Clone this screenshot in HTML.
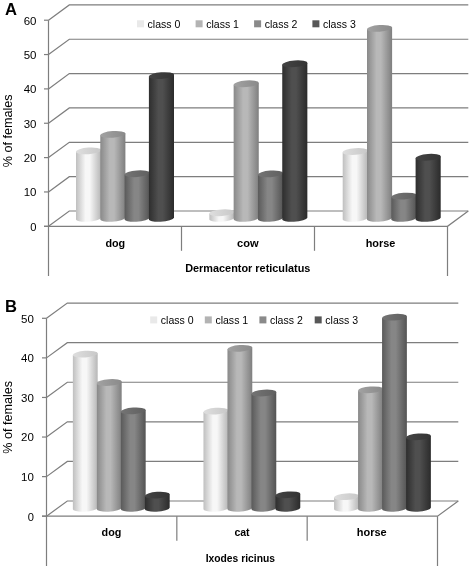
<!DOCTYPE html>
<html><head><meta charset="utf-8"><title>chart</title>
<style>
html,body{margin:0;padding:0;background:#fff;}
body{width:473px;height:566px;overflow:hidden;}
svg{display:block;filter:grayscale(1);font-family:"Liberation Sans",sans-serif;fill:#000;}
</style></head><body>
<svg width="473" height="566" viewBox="0 0 473 566">
<defs>
<linearGradient id="g0" x1="0" x2="1" y1="0" y2="0"><stop offset="0" stop-color="#bfbfbf"/><stop offset="0.38" stop-color="#f7f7f7"/><stop offset="0.55" stop-color="#f7f7f7"/><stop offset="1" stop-color="#b6b6b6"/></linearGradient>
<linearGradient id="t0" x1="0" x2="1" y1="0" y2="0"><stop offset="0" stop-color="#dedede"/><stop offset="1" stop-color="#c8c8c8"/></linearGradient>
<linearGradient id="g1" x1="0" x2="1" y1="0" y2="0"><stop offset="0" stop-color="#898989"/><stop offset="0.38" stop-color="#b8b8b8"/><stop offset="0.55" stop-color="#b8b8b8"/><stop offset="1" stop-color="#7f7f7f"/></linearGradient>
<linearGradient id="t1" x1="0" x2="1" y1="0" y2="0"><stop offset="0" stop-color="#a2a2a2"/><stop offset="1" stop-color="#8a8a8a"/></linearGradient>
<linearGradient id="g2" x1="0" x2="1" y1="0" y2="0"><stop offset="0" stop-color="#5a5a5a"/><stop offset="0.38" stop-color="#868686"/><stop offset="0.55" stop-color="#868686"/><stop offset="1" stop-color="#545454"/></linearGradient>
<linearGradient id="t2" x1="0" x2="1" y1="0" y2="0"><stop offset="0" stop-color="#747474"/><stop offset="1" stop-color="#606060"/></linearGradient>
<linearGradient id="g3" x1="0" x2="1" y1="0" y2="0"><stop offset="0" stop-color="#2e2e2e"/><stop offset="0.38" stop-color="#4f4f4f"/><stop offset="0.55" stop-color="#4f4f4f"/><stop offset="1" stop-color="#2b2b2b"/></linearGradient>
<linearGradient id="t3" x1="0" x2="1" y1="0" y2="0"><stop offset="0" stop-color="#444444"/><stop offset="1" stop-color="#343434"/></linearGradient>
</defs>
<rect width="473" height="566" fill="#fff"/>
<path d="M48.5 226.30 L69.30 211.00 L468.30 211.00" fill="none" stroke="#7e7e7e" stroke-width="1.2"/>
<path d="M44.0 226.30 H48.5" stroke="#7e7e7e" stroke-width="1.2"/>
<path d="M48.5 191.95 L69.30 176.65 L468.30 176.65" fill="none" stroke="#7e7e7e" stroke-width="1.2"/>
<path d="M44.0 191.95 H48.5" stroke="#7e7e7e" stroke-width="1.2"/>
<path d="M48.5 157.60 L69.30 142.30 L468.30 142.30" fill="none" stroke="#7e7e7e" stroke-width="1.2"/>
<path d="M44.0 157.60 H48.5" stroke="#7e7e7e" stroke-width="1.2"/>
<path d="M48.5 123.25 L69.30 107.95 L468.30 107.95" fill="none" stroke="#7e7e7e" stroke-width="1.2"/>
<path d="M44.0 123.25 H48.5" stroke="#7e7e7e" stroke-width="1.2"/>
<path d="M48.5 88.90 L69.30 73.60 L468.30 73.60" fill="none" stroke="#7e7e7e" stroke-width="1.2"/>
<path d="M44.0 88.90 H48.5" stroke="#7e7e7e" stroke-width="1.2"/>
<path d="M48.5 54.55 L69.30 39.25 L468.30 39.25" fill="none" stroke="#7e7e7e" stroke-width="1.2"/>
<path d="M44.0 54.55 H48.5" stroke="#7e7e7e" stroke-width="1.2"/>
<path d="M48.5 20.20 L69.30 4.90 L468.30 4.90" fill="none" stroke="#7e7e7e" stroke-width="1.2"/>
<path d="M44.0 20.20 H48.5" stroke="#7e7e7e" stroke-width="1.2"/>
<path d="M44.0 226.30 H447.5 L468.30 211.00" fill="none" stroke="#7e7e7e" stroke-width="1.2"/>
<path d="M48.5 20.20 V276" stroke="#7e7e7e" stroke-width="1.2"/>
<path d="M447.5 226.30 V276" stroke="#7e7e7e" stroke-width="1.2"/>
<path d="M181.50 226.30 V250.8" stroke="#7e7e7e" stroke-width="1.2"/>
<path d="M314.50 226.30 V250.8" stroke="#7e7e7e" stroke-width="1.2"/>
<path d="M76.00 151.80 L76.00 219.00 A12.55 3.30 -4 0 0 101.10 217.80 L101.10 150.00 Z" fill="url(#g0)"/>
<ellipse cx="88.55" cy="150.90" rx="12.60" ry="3.30" transform="rotate(-4.2 88.55 150.90)" fill="url(#t0)"/>
<path d="M100.30 135.30 L100.30 219.00 A12.55 3.30 -4 0 0 125.40 217.80 L125.40 133.50 Z" fill="url(#g1)"/>
<ellipse cx="112.85" cy="134.40" rx="12.60" ry="3.30" transform="rotate(-4.2 112.85 134.40)" fill="url(#t1)"/>
<path d="M124.60 174.60 L124.60 219.00 A12.55 3.30 -4 0 0 149.70 217.80 L149.70 172.80 Z" fill="url(#g2)"/>
<ellipse cx="137.15" cy="173.70" rx="12.60" ry="3.30" transform="rotate(-4.2 137.15 173.70)" fill="url(#t2)"/>
<path d="M148.90 76.50 L148.90 219.00 A12.55 3.30 -4 0 0 174.00 217.80 L174.00 74.70 Z" fill="url(#g3)"/>
<ellipse cx="161.45" cy="75.60" rx="12.60" ry="3.30" transform="rotate(-4.2 161.45 75.60)" fill="url(#t3)"/>
<path d="M209.35 213.60 L209.35 219.00 A12.55 3.30 -4 0 0 234.45 217.80 L234.45 211.80 Z" fill="url(#g0)"/>
<ellipse cx="221.90" cy="212.70" rx="12.60" ry="3.30" transform="rotate(-4.2 221.90 212.70)" fill="url(#t0)"/>
<path d="M233.65 84.70 L233.65 219.00 A12.55 3.30 -4 0 0 258.75 217.80 L258.75 82.90 Z" fill="url(#g1)"/>
<ellipse cx="246.20" cy="83.80" rx="12.60" ry="3.30" transform="rotate(-4.2 246.20 83.80)" fill="url(#t1)"/>
<path d="M257.95 174.80 L257.95 219.00 A12.55 3.30 -4 0 0 283.05 217.80 L283.05 173.00 Z" fill="url(#g2)"/>
<ellipse cx="270.50" cy="173.90" rx="12.60" ry="3.30" transform="rotate(-4.2 270.50 173.90)" fill="url(#t2)"/>
<path d="M282.25 64.70 L282.25 219.00 A12.55 3.30 -4 0 0 307.35 217.80 L307.35 62.90 Z" fill="url(#g3)"/>
<ellipse cx="294.80" cy="63.80" rx="12.60" ry="3.30" transform="rotate(-4.2 294.80 63.80)" fill="url(#t3)"/>
<path d="M342.70 152.40 L342.70 219.00 A12.55 3.30 -4 0 0 367.80 217.80 L367.80 150.60 Z" fill="url(#g0)"/>
<ellipse cx="355.25" cy="151.50" rx="12.60" ry="3.30" transform="rotate(-4.2 355.25 151.50)" fill="url(#t0)"/>
<path d="M367.00 29.30 L367.00 219.00 A12.55 3.30 -4 0 0 392.10 217.80 L392.10 27.50 Z" fill="url(#g1)"/>
<ellipse cx="379.55" cy="28.40" rx="12.60" ry="3.30" transform="rotate(-4.2 379.55 28.40)" fill="url(#t1)"/>
<path d="M391.30 197.00 L391.30 219.00 A12.55 3.30 -4 0 0 416.40 217.80 L416.40 195.20 Z" fill="url(#g2)"/>
<ellipse cx="403.85" cy="196.10" rx="12.60" ry="3.30" transform="rotate(-4.2 403.85 196.10)" fill="url(#t2)"/>
<path d="M415.60 158.20 L415.60 219.00 A12.55 3.30 -4 0 0 440.70 217.80 L440.70 156.40 Z" fill="url(#g3)"/>
<ellipse cx="428.15" cy="157.30" rx="12.60" ry="3.30" transform="rotate(-4.2 428.15 157.30)" fill="url(#t3)"/>
<text x="30.30" y="230.70" font-size="11.6" textLength="6.2" lengthAdjust="spacingAndGlyphs">0</text>
<text x="23.70" y="196.35" font-size="11.6" textLength="12.8" lengthAdjust="spacingAndGlyphs">10</text>
<text x="23.70" y="162.00" font-size="11.6" textLength="12.8" lengthAdjust="spacingAndGlyphs">20</text>
<text x="23.70" y="127.65" font-size="11.6" textLength="12.8" lengthAdjust="spacingAndGlyphs">30</text>
<text x="23.70" y="93.30" font-size="11.6" textLength="12.8" lengthAdjust="spacingAndGlyphs">40</text>
<text x="23.70" y="58.95" font-size="11.6" textLength="12.8" lengthAdjust="spacingAndGlyphs">50</text>
<text x="23.70" y="24.60" font-size="11.6" textLength="12.8" lengthAdjust="spacingAndGlyphs">60</text>
<text transform="translate(11.8 167.3) rotate(-90)" font-size="13" textLength="72.8" lengthAdjust="spacingAndGlyphs">% of females</text>
<text x="4.9" y="14.7" font-size="16.6" font-weight="bold">A</text>
<rect x="137.00" y="20.30" width="7" height="7" fill="#e9e9e9"/>
<text x="147.60" y="27.80" font-size="11.5" textLength="32.8" lengthAdjust="spacingAndGlyphs">class 0</text>
<rect x="195.60" y="20.30" width="7" height="7" fill="#b3b3b3"/>
<text x="206.20" y="27.80" font-size="11.5" textLength="32.8" lengthAdjust="spacingAndGlyphs">class 1</text>
<rect x="254.10" y="20.30" width="7" height="7" fill="#8a8a8a"/>
<text x="264.70" y="27.80" font-size="11.5" textLength="32.8" lengthAdjust="spacingAndGlyphs">class 2</text>
<rect x="312.40" y="20.30" width="7" height="7" fill="#575757"/>
<text x="323.00" y="27.80" font-size="11.5" textLength="32.8" lengthAdjust="spacingAndGlyphs">class 3</text>
<text x="105.4" y="246.8" font-size="11" font-weight="bold" textLength="19.8" lengthAdjust="spacingAndGlyphs">dog</text>
<text x="237" y="246.8" font-size="11" font-weight="bold" textLength="21.6" lengthAdjust="spacingAndGlyphs">cow</text>
<text x="365.7" y="246.8" font-size="11" font-weight="bold" textLength="29.7" lengthAdjust="spacingAndGlyphs">horse</text>
<text x="185.2" y="271.9" font-size="11" font-weight="bold" textLength="125.2" lengthAdjust="spacingAndGlyphs">Dermacentor reticulatus</text>
<path d="M46.5 516.20 L67.30 501.00 L458.30 501.00" fill="none" stroke="#7e7e7e" stroke-width="1.2"/>
<path d="M42.0 516.20 H46.5" stroke="#7e7e7e" stroke-width="1.2"/>
<path d="M46.5 476.62 L67.30 461.42 L458.30 461.42" fill="none" stroke="#7e7e7e" stroke-width="1.2"/>
<path d="M42.0 476.62 H46.5" stroke="#7e7e7e" stroke-width="1.2"/>
<path d="M46.5 437.04 L67.30 421.84 L458.30 421.84" fill="none" stroke="#7e7e7e" stroke-width="1.2"/>
<path d="M42.0 437.04 H46.5" stroke="#7e7e7e" stroke-width="1.2"/>
<path d="M46.5 397.46 L67.30 382.26 L458.30 382.26" fill="none" stroke="#7e7e7e" stroke-width="1.2"/>
<path d="M42.0 397.46 H46.5" stroke="#7e7e7e" stroke-width="1.2"/>
<path d="M46.5 357.88 L67.30 342.68 L458.30 342.68" fill="none" stroke="#7e7e7e" stroke-width="1.2"/>
<path d="M42.0 357.88 H46.5" stroke="#7e7e7e" stroke-width="1.2"/>
<path d="M46.5 318.30 L67.30 303.10 L458.30 303.10" fill="none" stroke="#7e7e7e" stroke-width="1.2"/>
<path d="M42.0 318.30 H46.5" stroke="#7e7e7e" stroke-width="1.2"/>
<path d="M42.0 516.20 H437.5 L458.30 501.00" fill="none" stroke="#7e7e7e" stroke-width="1.2"/>
<path d="M46.5 318.30 V566" stroke="#7e7e7e" stroke-width="1.2"/>
<path d="M437.5 516.20 V566" stroke="#7e7e7e" stroke-width="1.2"/>
<path d="M176.83 516.20 V540.7" stroke="#7e7e7e" stroke-width="1.2"/>
<path d="M307.17 516.20 V540.7" stroke="#7e7e7e" stroke-width="1.2"/>
<path d="M72.87 355.00 L72.87 508.90 A12.40 3.30 -4 0 0 97.67 507.70 L97.67 353.20 Z" fill="url(#g0)"/>
<ellipse cx="85.27" cy="354.10" rx="12.45" ry="3.30" transform="rotate(-4.2 85.27 354.10)" fill="url(#t0)"/>
<path d="M96.87 383.40 L96.87 508.90 A12.40 3.30 -4 0 0 121.67 507.70 L121.67 381.60 Z" fill="url(#g1)"/>
<ellipse cx="109.27" cy="382.50" rx="12.45" ry="3.30" transform="rotate(-4.2 109.27 382.50)" fill="url(#t1)"/>
<path d="M120.87 411.80 L120.87 508.90 A12.40 3.30 -4 0 0 145.67 507.70 L145.67 410.00 Z" fill="url(#g2)"/>
<ellipse cx="133.27" cy="410.90" rx="12.45" ry="3.30" transform="rotate(-4.2 133.27 410.90)" fill="url(#t2)"/>
<path d="M144.87 496.00 L144.87 508.90 A12.40 3.30 -4 0 0 169.67 507.70 L169.67 494.20 Z" fill="url(#g3)"/>
<ellipse cx="157.27" cy="495.10" rx="12.45" ry="3.30" transform="rotate(-4.2 157.27 495.10)" fill="url(#t3)"/>
<path d="M203.47 412.00 L203.47 508.90 A12.40 3.30 -4 0 0 228.27 507.70 L228.27 410.20 Z" fill="url(#g0)"/>
<ellipse cx="215.87" cy="411.10" rx="12.45" ry="3.30" transform="rotate(-4.2 215.87 411.10)" fill="url(#t0)"/>
<path d="M227.47 349.30 L227.47 508.90 A12.40 3.30 -4 0 0 252.27 507.70 L252.27 347.50 Z" fill="url(#g1)"/>
<ellipse cx="239.87" cy="348.40" rx="12.45" ry="3.30" transform="rotate(-4.2 239.87 348.40)" fill="url(#t1)"/>
<path d="M251.47 393.90 L251.47 508.90 A12.40 3.30 -4 0 0 276.27 507.70 L276.27 392.10 Z" fill="url(#g2)"/>
<ellipse cx="263.87" cy="393.00" rx="12.45" ry="3.30" transform="rotate(-4.2 263.87 393.00)" fill="url(#t2)"/>
<path d="M275.47 495.70 L275.47 508.90 A12.40 3.30 -4 0 0 300.27 507.70 L300.27 493.90 Z" fill="url(#g3)"/>
<ellipse cx="287.87" cy="494.80" rx="12.45" ry="3.30" transform="rotate(-4.2 287.87 494.80)" fill="url(#t3)"/>
<path d="M334.07 497.60 L334.07 508.90 A12.40 3.30 -4 0 0 358.87 507.70 L358.87 495.80 Z" fill="url(#g0)"/>
<ellipse cx="346.47" cy="496.70" rx="12.45" ry="3.30" transform="rotate(-4.2 346.47 496.70)" fill="url(#t0)"/>
<path d="M358.07 390.70 L358.07 508.90 A12.40 3.30 -4 0 0 382.87 507.70 L382.87 388.90 Z" fill="url(#g1)"/>
<ellipse cx="370.47" cy="389.80" rx="12.45" ry="3.30" transform="rotate(-4.2 370.47 389.80)" fill="url(#t1)"/>
<path d="M382.07 318.10 L382.07 508.90 A12.40 3.30 -4 0 0 406.87 507.70 L406.87 316.30 Z" fill="url(#g2)"/>
<ellipse cx="394.47" cy="317.20" rx="12.45" ry="3.30" transform="rotate(-4.2 394.47 317.20)" fill="url(#t2)"/>
<path d="M406.07 437.70 L406.07 508.90 A12.40 3.30 -4 0 0 430.87 507.70 L430.87 435.90 Z" fill="url(#g3)"/>
<ellipse cx="418.47" cy="436.80" rx="12.45" ry="3.30" transform="rotate(-4.2 418.47 436.80)" fill="url(#t3)"/>
<text x="27.70" y="520.60" font-size="11.6" textLength="6.2" lengthAdjust="spacingAndGlyphs">0</text>
<text x="21.10" y="481.02" font-size="11.6" textLength="12.8" lengthAdjust="spacingAndGlyphs">10</text>
<text x="21.10" y="441.44" font-size="11.6" textLength="12.8" lengthAdjust="spacingAndGlyphs">20</text>
<text x="21.10" y="401.86" font-size="11.6" textLength="12.8" lengthAdjust="spacingAndGlyphs">30</text>
<text x="21.10" y="362.28" font-size="11.6" textLength="12.8" lengthAdjust="spacingAndGlyphs">40</text>
<text x="21.10" y="322.70" font-size="11.6" textLength="12.8" lengthAdjust="spacingAndGlyphs">50</text>
<text transform="translate(11.9 453.8) rotate(-90)" font-size="13" textLength="72.8" lengthAdjust="spacingAndGlyphs">% of females</text>
<text x="5.1" y="311.8" font-size="16.6" font-weight="bold">B</text>
<rect x="150.20" y="316.40" width="7" height="7" fill="#e9e9e9"/>
<text x="160.80" y="323.90" font-size="11.5" textLength="32.8" lengthAdjust="spacingAndGlyphs">class 0</text>
<rect x="204.80" y="316.40" width="7" height="7" fill="#b3b3b3"/>
<text x="215.40" y="323.90" font-size="11.5" textLength="32.8" lengthAdjust="spacingAndGlyphs">class 1</text>
<rect x="259.40" y="316.40" width="7" height="7" fill="#8a8a8a"/>
<text x="270.00" y="323.90" font-size="11.5" textLength="32.8" lengthAdjust="spacingAndGlyphs">class 2</text>
<rect x="314.70" y="316.40" width="7" height="7" fill="#575757"/>
<text x="325.30" y="323.90" font-size="11.5" textLength="32.8" lengthAdjust="spacingAndGlyphs">class 3</text>
<text x="101.6" y="535.8" font-size="11" font-weight="bold" textLength="19.8" lengthAdjust="spacingAndGlyphs">dog</text>
<text x="234.4" y="535.8" font-size="11" font-weight="bold" textLength="15.2" lengthAdjust="spacingAndGlyphs">cat</text>
<text x="356.8" y="535.8" font-size="11" font-weight="bold" textLength="29.9" lengthAdjust="spacingAndGlyphs">horse</text>
<text x="205.7" y="561.8" font-size="11" font-weight="bold" textLength="69.3" lengthAdjust="spacingAndGlyphs">Ixodes ricinus</text>
</svg>
</body></html>
